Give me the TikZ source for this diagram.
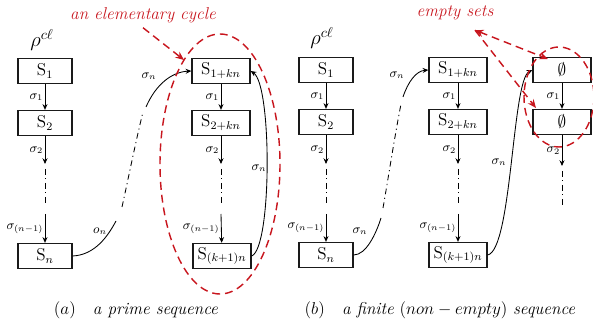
\documentclass[tikz,border=0pt]{standalone}
\usepackage{xcolor}
\usepackage{tikz}
\usetikzlibrary{arrows.meta,positioning,calc}
\definecolor{cyclered}{HTML}{C8161E}
\definecolor{boxline}{HTML}{1A1A1A}

\begin{document}
\begin{tikzpicture}[x=0.7pt,y=-0.7pt,font=\large,
    sbox/.style={draw=boxline,line width=0.9pt,minimum width=37.8pt,minimum height=17.5pt,inner sep=0pt},
    wbox/.style={sbox,minimum width=40.6pt},
    arr/.style={line width=0.6pt,-{Stealth[length=4pt,width=3.5pt]}},
    dd/.style={line width=0.6pt,dash pattern=on 4pt off 2.5pt on 0.8pt off 2.5pt},
    lab/.style={font=\small,inner sep=1pt},
    redtxt/.style={cyclered,font=\large\itshape},
    redline/.style={cyclered,line width=1pt,dash pattern=on 5.5pt off 3.5pt},
    redarr/.style={redline,-{Stealth[length=6pt,width=5pt]}}]
  \useasboundingbox (0,0) rectangle (593,323);
  % (a) a prime sequence
  \node[font=\Large] (rhoa) at (42,40) {$\rho^{c\ell}$};
  \node[sbox] (sa1) at (45,71) {$\mathrm{S}_1$};
  \node[sbox] (sa2) at (45,123) {$\mathrm{S}_2$};
  \node[sbox] (san) at (45,256) {$\mathrm{S}_n$};
  \node[wbox] (ca1) at (221,71) {$\mathrm{S}_{1+kn}$};
  \node[wbox] (ca2) at (221,123) {$\mathrm{S}_{2+kn}$};
  \node[wbox] (can) at (222,256) {$\mathrm{S}_{(k+1)n}$};
  % (b) a finite sequence
  \node[font=\Large] (rhob) at (322,38) {$\rho^{c\ell}$};
  \node[sbox] (sb1) at (326,70) {$\mathrm{S}_1$};
  \node[sbox] (sb2) at (326,122) {$\mathrm{S}_2$};
  \node[sbox] (sbn) at (326,255) {$\mathrm{S}_n$};
  \node[wbox] (cb1) at (458,70) {$\mathrm{S}_{1+kn}$};
  \node[wbox] (cb2) at (458,122) {$\mathrm{S}_{2+kn}$};
  \node[wbox] (cbn) at (458,255) {$\mathrm{S}_{(k+1)n}$};
  \node[wbox] (e1) at (562,70) {$\emptyset$};
  \node[wbox] (e2) at (562,122) {$\emptyset$};
  % columns
  \foreach \n/\x in {sa/45,ca/221,sb/326,cb/458}{
    \coordinate (\n-t) at (\x,164);
    \coordinate (\n-u) at (\x,169);
    \coordinate (\n-v) at (\x,206);
    \coordinate (\n-w) at (\x,214);
    \draw[arr] (\n1) -- node[lab,left]{$\sigma_1$} (\n2);
    \draw[arr] (\n2) -- node[lab,left]{$\sigma_2$} (\n-t);
    \draw[dd] (\n-u) -- (\n-v);
    \draw[arr] (\n-w) -- node[lab,left]{$\sigma_{(n-1)}$} (\n n);
  }
  \coordinate (e-t) at (562,166);
  \coordinate (e-u) at (562,171);
  \coordinate (e-v) at (562,207);
  \draw[arr] (e1) -- node[lab,left]{$\sigma_1$} (e2);
  \draw[arr] (e2) -- node[lab,left]{$\sigma_2$} (e-t);
  \draw[dd] (e-u) -- (e-v);
  % long jumps
  \coordinate (pa1) at (116,221);
  \coordinate (pa2) at (122,207);
  \coordinate (pa3) at (143,112);
  \coordinate (pa4) at (146,107);
  \draw[line width=0.6pt] (san.east) .. controls (95,255) and (108,236) .. (pa1);
  \draw[dd] (pa2) .. controls (128,180) and (136,140) .. (pa3);
  \draw[arr] (pa4) .. controls (156,84) and (172,72) .. (ca1.west);
  \draw[arr] (can.east) .. controls (272,248) and (272,85) .. (ca1.east);
  \node[lab] (ona) at (100,231) {$o_n$};
  \node[lab] (sna) at (149,76) {$\sigma_n$};
  \node[lab] (snc) at (259,168) {$\sigma_n$};
  \coordinate (pb1) at (381,218);
  \coordinate (pb2) at (383,208);
  \coordinate (pb3) at (401,104);
  \coordinate (pb4) at (403,97);
  \draw[line width=0.6pt] (sbn.east) .. controls (366,255) and (376,234) .. (pb1);
  \draw[dd] (pb2) .. controls (388,180) and (394,140) .. (pb3);
  \draw[arr] (pb4) .. controls (408,82) and (416,71) .. (cb1.west);
  \draw[arr] (cbn.east) .. controls (512,250) and (512,80) .. (e1.west);
  \node[lab] (snb) at (360,231) {$\sigma_n$};
  \node[lab] (snd) at (397,75) {$\sigma_n$};
  \node[lab] (sne) at (499,162) {$\sigma_n$};
  % red marks
  \draw[redline] (220,164) ellipse [x radius=60,y radius=130];
  \draw[redline] (559,97) ellipse [x radius=35,y radius=50];
  \node[redtxt] (cyclab) at (143,15) {an elementary cycle};
  \coordinate (cyctip) at (184,60);
  \draw[redarr] (cyclab.south) -- (cyctip);
  \node[redtxt] (emptylab) at (455,13) {empty sets};
  \coordinate (efoot) at ($(emptylab.south)+(20,5)$);
  \coordinate (etip1) at (548,59);
  \coordinate (etip2) at (536,108);
  \draw[redarr,{Stealth[length=6pt,width=5pt]}-{Stealth[length=6pt,width=5pt]}] (efoot) -- (etip1);
  \draw[redarr] (efoot) -- (etip2);
  % captions
  \node (capa) at (136,310) {$(a)$\quad\textit{a prime sequence}};
  \node (capb) at (440,310) {$(b)$\quad\textit{a finite} $(non-empty)$ \textit{sequence}};
\end{tikzpicture}
\end{document}
